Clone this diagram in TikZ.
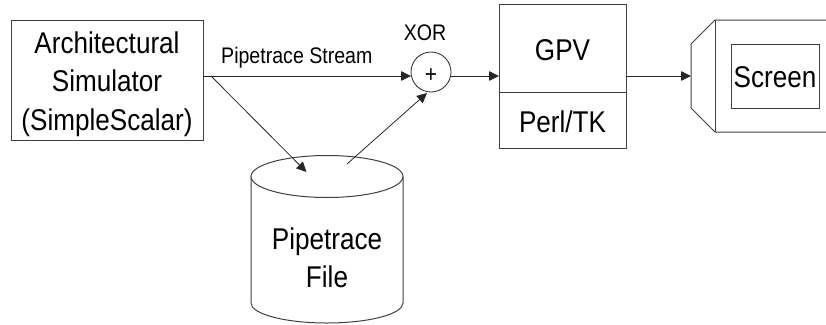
\documentclass[tikz,border=0pt]{standalone}
\usepackage{fontspec}
\setmainfont[FakeStretch=0.87]{Liberation Sans}
\usepackage{tikz}
\usetikzlibrary{positioning, arrows.meta}

\tikzset{
    blockbox/.style={draw=black!75, line width=1pt, anchor=north west, inner sep=0pt},
    boxline/.style={draw=black!75, line width=1pt},
    flow/.style={-{Triangle[length=10pt,width=9.5pt]}, line width=0.8pt, black!85},
    biglabel/.style={font=\fontsize{30}{38.3}\selectfont, align=center, inner sep=0pt},
    smalllabel/.style={font=\fontsize{22.5}{27}\selectfont, inner sep=0pt}
}

\begin{document}
\begin{tikzpicture}[x=1pt, y=-1pt]
    \useasboundingbox (0,0) rectangle (826,324);

    % Simulator
    \node[blockbox, minimum width=192pt, minimum height=120pt] (sim) at (11,20) {};
    \node[biglabel] (simlabel) at (107,84) {Architectural\\Simulator\\(SimpleScalar)};

    % XOR
    \node[draw=black!85, line width=0.8pt, circle, minimum size=40pt, inner sep=0pt] (xor) at (431,72) {};
    \node[smalllabel] (plus) at (431,76) {\fontsize{24}{27}\selectfont +};
    \node[smalllabel, anchor=base] (xorlabel) at (425,40) {XOR};
    \coordinate (xorin) at (411,76);
    \coordinate (xorout) at (451,76);
    \coordinate (xorlow) at (427,93);

    % Viewer
    \node[blockbox, minimum width=127pt, minimum height=88pt] (gpv) at (499,4) {};
    \node[biglabel, anchor=base] (gpvlabel) at (562.5,60) {GPV};
    \node[blockbox, minimum width=127pt, minimum height=56pt] (perl) at (499,92) {};
    \node[biglabel, anchor=base] (perllabel) at (562.5,132.5) {Perl/TK};
    \coordinate (gpvin) at (499,76);
    \coordinate (gpvout) at (626,76);

    % File
    \draw[boxline] (251,176.5) -- (251,303) arc[start angle=180, end angle=360, x radius=76, y radius=-20] -- (403,176.5);
    \draw[boxline, fill=white] (327,176.5) ellipse (76 and 21);
    \node[biglabel] (file) at (327,257.5) {Pipetrace\\File};
    \coordinate (filein) at (306.5,172);
    \coordinate (fileout) at (347,164);

    % Screen
    \draw[boxline] (826,20) -- (715,20) -- (691,44) -- (691,108) -- (715,132) -- (826,132);
    \draw[boxline] (715,20) -- (715,132);
    \node[blockbox, minimum width=88pt, minimum height=64pt] (screen) at (731,44) {};
    \node[biglabel] (screenlabel) at (775,77) {Screen};
    \coordinate (screenin) at (691,76);

    % Connectors
    \coordinate (simout) at (203,76);
    \coordinate (branch) at (211,76);
    \draw[flow] (simout) -- (xorin);
    \node[smalllabel, anchor=base west] (stream) at (221,63.3) {Pipetrace Stream};
    \draw[flow] (branch) -- (filein);
    \draw[flow] (fileout) -- (xorlow);
    \draw[flow] (xorout) -- (gpvin);
    \draw[flow] (gpvout) -- (screenin);
\end{tikzpicture}
\end{document}
